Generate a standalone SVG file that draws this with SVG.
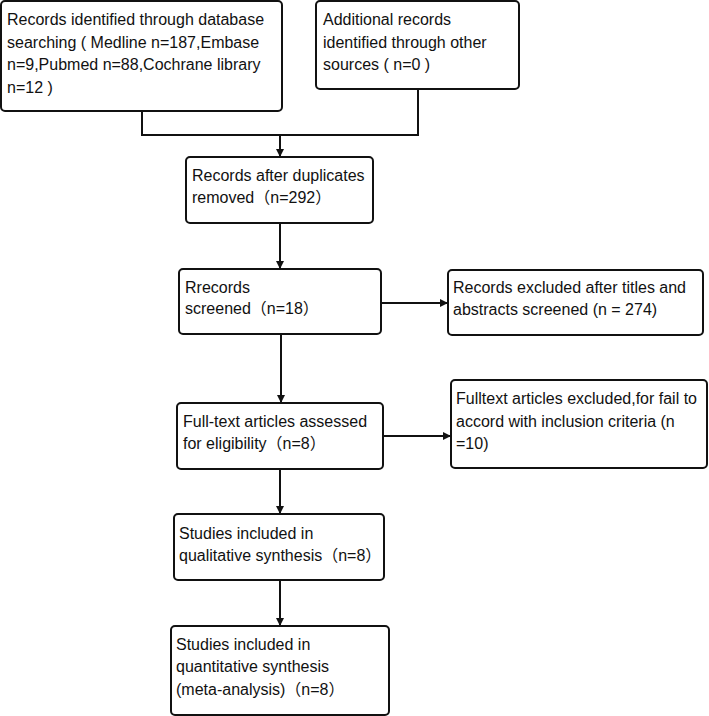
<svg xmlns="http://www.w3.org/2000/svg" width="709" height="716" viewBox="0 0 709 716">
<defs>
<style>
.box{fill:#fff;stroke:#111;stroke-width:2}
.t{font-family:"Liberation Sans","Noto Sans CJK SC",sans-serif;font-size:16px;fill:#111}
.c{fill:none;stroke:#111;stroke-width:2}
</style>
<marker id="ah" viewBox="0 0 10 10" refX="10" refY="5" markerWidth="4" markerHeight="4" orient="auto" markerUnits="strokeWidth">
<path d="M0,0 L10,5 L0,10 Z" fill="#111"/>
</marker>
</defs>
<rect width="709" height="716" fill="#fff"/>
<g id="connectors">
<path class="c" d="M142,111 V135 H418 V89"/>
<path class="c" d="M280,135 V157" marker-end="url(#ah)"/>
<path class="c" d="M280,223 V269" marker-end="url(#ah)"/>
<path class="c" d="M381,303 H448" marker-end="url(#ah)"/>
<path class="c" d="M281,334 V403" marker-end="url(#ah)"/>
<path class="c" d="M383,436 H451" marker-end="url(#ah)"/>
<path class="c" d="M280,469 V514" marker-end="url(#ah)"/>
<path class="c" d="M280,580 V626" marker-end="url(#ah)"/>
</g>
<g id="n1"><rect class="box" x="1" y="1" width="281" height="110" rx="4"/>
<text class="t" x="7" y="25">Records identified through database</text>
<text class="t" x="7" y="47.5">searching ( Medline n=187,Embase</text>
<text class="t" x="7" y="70">n=9,Pubmed n=88,Cochrane library</text>
<text class="t" x="7" y="92.5">n=12 )</text></g>
<g id="n2"><rect class="box" x="316" y="1" width="203" height="88" rx="4"/>
<text class="t" x="323" y="25">Additional records</text>
<text class="t" x="323" y="47.5">identified through other</text>
<text class="t" x="323" y="70">sources ( n=0 )</text></g>
<g id="n3"><rect class="box" x="186" y="157" width="187" height="66" rx="4"/>
<text class="t" x="192" y="181">Records after duplicates</text>
<text class="t" x="192" y="203">removed（n=292）</text></g>
<g id="n4"><rect class="box" x="179" y="269" width="202" height="65" rx="4"/>
<text class="t" x="185" y="293">Rrecords</text>
<text class="t" x="185" y="314">screened（n=18）</text></g>
<g id="n5"><rect class="box" x="448" y="270" width="255" height="65" rx="4"/>
<text class="t" x="453" y="293">Records excluded after titles and</text>
<text class="t" x="453" y="315">abstracts screened (n = 274)</text></g>
<g id="n6"><rect class="box" x="177" y="403" width="206" height="66" rx="4"/>
<text class="t" x="183" y="427">Full-text articles assessed</text>
<text class="t" x="183" y="449">for eligibility（n=8）</text></g>
<g id="n7"><rect class="box" x="451" y="380" width="256" height="88" rx="4"/>
<text class="t" x="456" y="404">Fulltext articles excluded,for fail to</text>
<text class="t" x="456" y="427">accord with inclusion criteria (n</text>
<text class="t" x="456" y="449">=10)</text></g>
<g id="n8"><rect class="box" x="174" y="514" width="210" height="66" rx="4"/>
<text class="t" x="179" y="539">Studies included in</text>
<text class="t" x="179" y="561">qualitative synthesis（n=8）</text></g>
<g id="n9"><rect class="box" x="171" y="626" width="218" height="89" rx="4"/>
<text class="t" x="176" y="650">Studies included in</text>
<text class="t" x="176" y="672">quantitative synthesis</text>
<text class="t" x="176" y="695">(meta-analysis)（n=8）</text></g>
</svg>
